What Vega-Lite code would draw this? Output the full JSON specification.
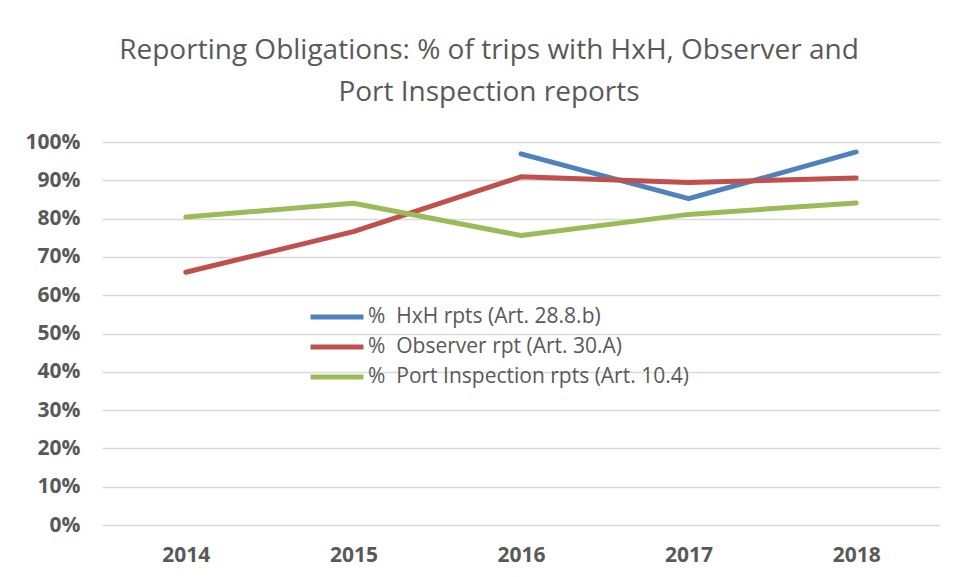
{
  "$schema": "https://vega.github.io/schema/vega-lite/v6.json",
  "width": 838,
  "height": 383,
  "autosize": {"type": "none"},
  "padding": {"left": 102, "top": 142, "right": 14, "bottom": 52},
  "background": "white",
  "title": {
    "text": ["Reporting Obligations: % of trips with HxH, Observer and", "Port Inspection reports"],
    "font": "Open Sans",
    "fontSize": 28,
    "fontWeight": "normal",
    "color": "#595959",
    "lineHeight": 42,
    "anchor": "middle",
    "dx": -32,
    "offset": 24
  },
  "data": {
    "values": [
      {"year": "2016", "series": "%\u00a0 HxH rpts (Art. 28.8.b)", "value": 0.969},
      {"year": "2017", "series": "%\u00a0 HxH rpts (Art. 28.8.b)", "value": 0.852},
      {"year": "2018", "series": "%\u00a0 HxH rpts (Art. 28.8.b)", "value": 0.974},
      {"year": "2014", "series": "%\u00a0 Observer rpt (Art. 30.A)", "value": 0.660},
      {"year": "2015", "series": "%\u00a0 Observer rpt (Art. 30.A)", "value": 0.766},
      {"year": "2016", "series": "%\u00a0 Observer rpt (Art. 30.A)", "value": 0.909},
      {"year": "2017", "series": "%\u00a0 Observer rpt (Art. 30.A)", "value": 0.894},
      {"year": "2018", "series": "%\u00a0 Observer rpt (Art. 30.A)", "value": 0.906},
      {"year": "2014", "series": "%\u00a0 Port Inspection rpts (Art. 10.4)", "value": 0.804},
      {"year": "2015", "series": "%\u00a0 Port Inspection rpts (Art. 10.4)", "value": 0.840},
      {"year": "2016", "series": "%\u00a0 Port Inspection rpts (Art. 10.4)", "value": 0.756},
      {"year": "2017", "series": "%\u00a0 Port Inspection rpts (Art. 10.4)", "value": 0.811},
      {"year": "2018", "series": "%\u00a0 Port Inspection rpts (Art. 10.4)", "value": 0.841}
    ]
  },
  "mark": {"type": "line", "strokeWidth": 5, "strokeCap": "round", "strokeJoin": "round"},
  "encoding": {
    "x": {
      "field": "year",
      "type": "ordinal",
      "scale": {"type": "point", "padding": 0.5, "domain": ["2014", "2015", "2016", "2017", "2018"]},
      "axis": {
        "title": null,
        "domain": false,
        "ticks": false,
        "grid": false,
        "labelAngle": 0,
        "labelFont": "Open Sans",
        "labelFontSize": 21,
        "labelFontWeight": "bold",
        "labelColor": "#595959",
        "labelPadding": 19
      }
    },
    "y": {
      "field": "value",
      "type": "quantitative",
      "scale": {"domain": [0, 1], "nice": false, "zero": true},
      "axis": {
        "title": null,
        "format": ".0%",
        "values": [0, 0.1, 0.2, 0.3, 0.4, 0.5, 0.6, 0.7, 0.8, 0.9, 1],
        "domain": false,
        "ticks": false,
        "grid": true,
        "gridColor": "#D9D9D9",
        "gridWidth": 1.5,
        "labelFont": "Open Sans",
        "labelFontSize": 21,
        "labelFontWeight": "bold",
        "labelColor": "#595959",
        "labelPadding": 22
      }
    },
    "color": {
      "field": "series",
      "type": "nominal",
      "scale": {
        "domain": ["%\u00a0 HxH rpts (Art. 28.8.b)", "%\u00a0 Observer rpt (Art. 30.A)", "%\u00a0 Port Inspection rpts (Art. 10.4)"],
        "range": ["#4F81BD", "#C0504D", "#9BBB59"]
      },
      "legend": {
        "title": null,
        "orient": "none",
        "legendX": 206,
        "legendY": 164,
        "symbolType": "stroke",
        "symbolSize": 2800,
        "symbolStrokeWidth": 5,
        "clipHeight": 22,
        "labelFont": "Open Sans",
        "labelFontSize": 21,
        "labelColor": "#595959",
        "labelOffset": 2,
        "rowPadding": 8,
        "padding": 0,
        "labelLimit": 400
      }
    }
  },
  "config": {"view": {"stroke": null}}
}
